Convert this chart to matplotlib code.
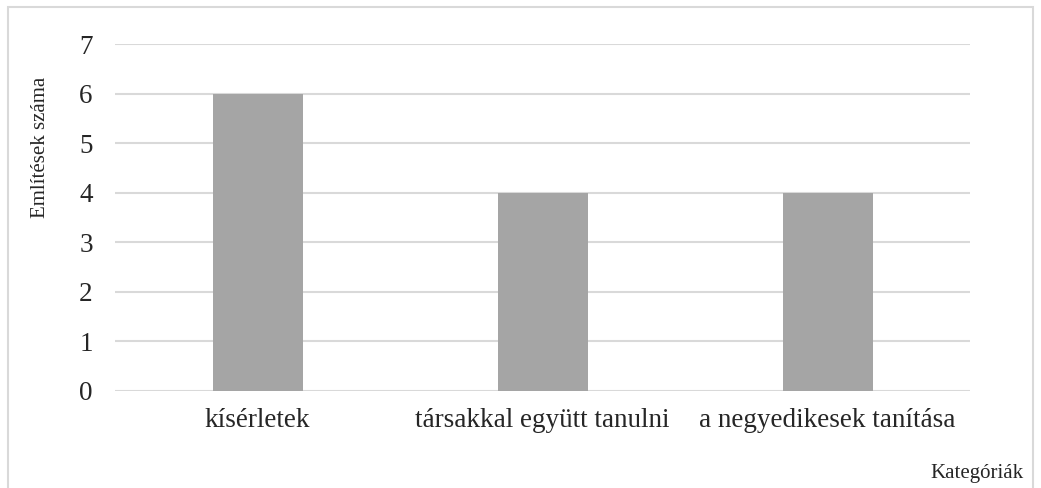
import matplotlib.pyplot as plt
from matplotlib.patches import Rectangle

categories = ['kísérletek', 'társakkal együtt tanulni', 'a negyedikesek tanítása']
values = [6, 4, 4]
yticks = [0, 1, 2, 3, 4, 5, 6, 7]

plt.rcParams['font.family'] = ['Liberation Serif', 'DejaVu Serif']

fig = plt.figure(figsize=(10.41, 4.88), dpi=100)
ax = fig.add_axes([0.1105, 0.1988, 0.8215, 0.711])

ax.bar(range(len(categories)), values, width=0.316, color='#a5a5a5', zorder=3)
ax.set_xlim(-0.5, len(categories) - 0.5)
ax.set_ylim(0, 7)
ax.set_yticks(yticks)
ax.set_xticks(range(len(categories)))
ax.set_xticklabels(categories)
ax.tick_params(axis='both', length=0, labelsize=19.5, colors='#262626')
ax.tick_params(axis='y', pad=16)
ax.tick_params(axis='x', pad=12)
ax.grid(axis='y', color='#d9d9d9', linewidth=1.5, zorder=0)
for s in ax.spines.values():
    s.set_visible(False)

fig.text(0.039, 0.697, 'Említések száma', rotation=90, ha='center', va='center',
         fontsize=15, color='#262626')
fig.text(0.983, 0.03, 'Kategóriák', ha='right', va='center', fontsize=15, color='#262626')

# chart border
fig.patches.append(Rectangle((0.0075, -0.01), 0.985, 0.996, transform=fig.transFigure,
                             fill=False, edgecolor='#d9d9d9', linewidth=1.5))

fig.savefig('out.png', dpi=100)
